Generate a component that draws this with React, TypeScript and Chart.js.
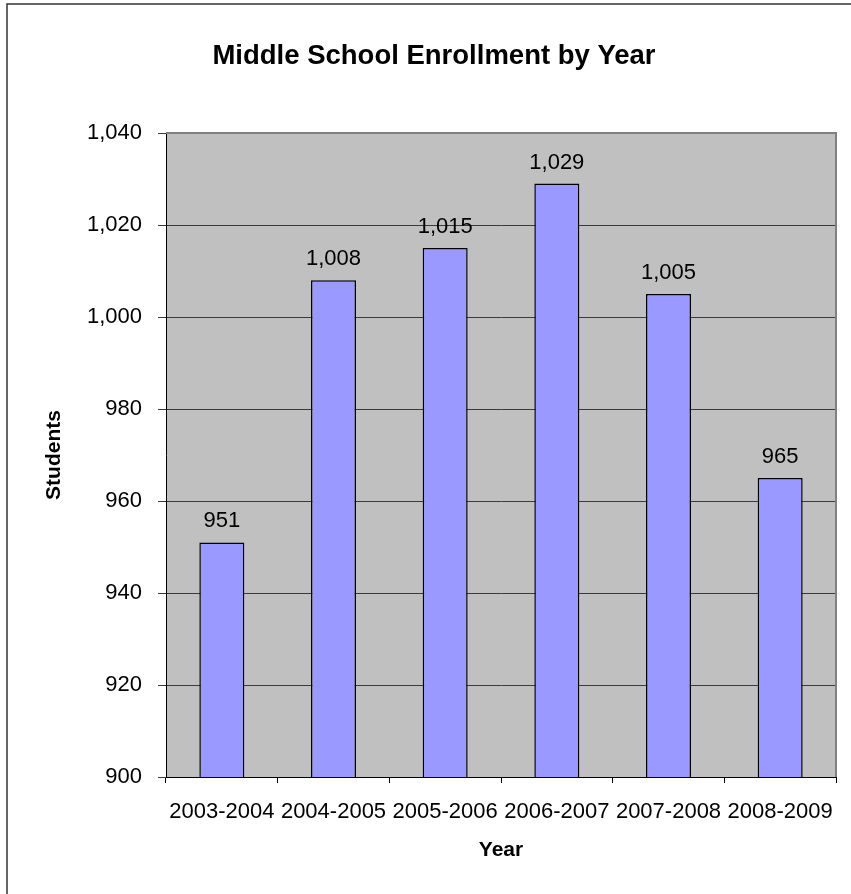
import React, { useEffect, useRef } from "react";
import { Chart, registerables } from "chart.js";

Chart.register(...registerables);

const chartTitle = "Middle School Enrollment by Year";
const categories = ["2003-2004", "2004-2005", "2005-2006", "2006-2007", "2007-2008", "2008-2009"];
const enrollment = [951, 1008, 1015, 1029, 1005, 965];
const yMin = 900;
const yMax = 1040;
const yStep = 20;

const FONT = "'Liberation Sans', Arial, sans-serif";
const fmt = (v: number) => Number(v).toLocaleString("en-US");

const framePlugin = {
  id: "frame",
  beforeDraw(chart: any) {
    const { ctx, chartArea, width, height } = chart;
    ctx.save();
    ctx.fillStyle = "#ffffff";
    ctx.fillRect(0, 0, width, height);
    ctx.strokeStyle = "#333333";
    ctx.lineWidth = 1.5;
    ctx.strokeRect(7, 4, width + 20, height + 20);
    ctx.fillStyle = "#C0C0C0";
    ctx.fillRect(chartArea.left, chartArea.top, chartArea.right - chartArea.left, chartArea.bottom - chartArea.top);
    ctx.restore();
  },
  afterDraw(chart: any) {
    const { ctx, chartArea } = chart;
    ctx.save();
    ctx.strokeStyle = "#808080";
    ctx.lineWidth = 2;
    ctx.beginPath();
    ctx.moveTo(chartArea.left, chartArea.top);
    ctx.lineTo(chartArea.right, chartArea.top);
    ctx.lineTo(chartArea.right, chartArea.bottom);
    ctx.stroke();
    // chart title
    ctx.fillStyle = "#000000";
    ctx.font = `bold 27.5px ${FONT}`;
    ctx.textAlign = "center";
    ctx.textBaseline = "alphabetic";
    ctx.fillText(chartTitle, 434, 63.5);
    ctx.restore();
  },
};

const valueLabelPlugin = {
  id: "valueLabels",
  afterDatasetsDraw(chart: any) {
    const { ctx } = chart;
    const meta = chart.getDatasetMeta(0);
    const data = chart.data.datasets[0].data as number[];
    ctx.save();
    ctx.fillStyle = "#000000";
    ctx.font = `22px ${FONT}`;
    ctx.textAlign = "center";
    ctx.textBaseline = "alphabetic";
    meta.data.forEach((bar: any, i: number) => {
      ctx.fillText(fmt(data[i]), bar.x, bar.y - 15);
    });
    ctx.restore();
  },
};

export default function App() {
  const ref = useRef<HTMLCanvasElement>(null);
  useEffect(() => {
    if (!ref.current) return;
    const chart = new Chart(ref.current, {
      type: "bar",
      data: {
        labels: categories,
        datasets: [
          {
            data: enrollment,
            backgroundColor: "#9999FF",
            borderColor: "#000000",
            borderWidth: 1.5,
            barPercentage: 0.403,
            categoryPercentage: 1,
          },
        ],
      },
      options: {
        responsive: false,
        animation: false,
        layout: { padding: { left: 0, right: 15, top: 133, bottom: 0 } },
        plugins: {
          legend: { display: false },
          tooltip: { enabled: false },
          title: { display: false },
        },
        scales: {
          x: {
            afterFit: (s: any) => {
              s.height = 117;
            },
            grid: {
              offset: true,
              drawOnChartArea: false,
              drawTicks: true,
              tickLength: 6,
              color: "#000000",
            },
            border: { display: true, color: "#000000", width: 1 },
            ticks: {
              color: "#000000",
              font: { family: FONT, size: 22 },
              padding: 16,
              maxRotation: 0,
              autoSkip: false,
            },
            title: {
              display: true,
              text: "Year",
              color: "#000000",
              font: { family: FONT, size: 21, weight: "bold", lineHeight: 1.2 },
              padding: { top: 0, bottom: 31 },
            },
          },
          y: {
            min: yMin,
            max: yMax,
            afterFit: (s: any) => {
              s.width = 166;
            },
            grid: {
              color: "#3a3a3a",
              lineWidth: 1,
              tickLength: 8,
              drawTicks: true,
            },
            border: { display: true, color: "#000000", width: 1 },
            ticks: {
              stepSize: yStep,
              color: "#000000",
              font: { family: FONT, size: 22 },
              padding: 16,
              callback: (v: any) => fmt(v),
            },
            title: {
              display: true,
              text: "Students",
              color: "#000000",
              font: { family: FONT, size: 21, weight: "bold", lineHeight: 1.2 },
              padding: { top: 41.4, bottom: 0 },
            },
          },
        },
      },
      plugins: [framePlugin, valueLabelPlugin],
    });
    return () => chart.destroy();
  }, []);
  return (
    <div style={{ position: "absolute", left: 0, top: 0, width: 851, height: 894 }}>
      <canvas ref={ref} width={851} height={894} style={{ width: 851, height: 894, display: "block" }} />
    </div>
  );
}
